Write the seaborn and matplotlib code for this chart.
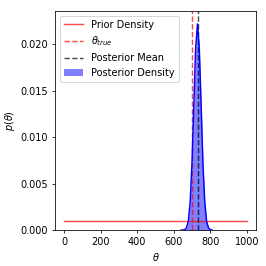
import numpy as np
import pandas as pd
import seaborn as sns
import matplotlib
matplotlib.use("Agg")
import matplotlib.pyplot as plt

# values
prior_theta = [0, 1000]
prior_density = [0.001, 0.001]

theta_true = 700
posterior_mean = 732

post_theta = [640, 650, 660, 670, 680, 690, 700, 710, 720, 730,
              740, 750, 760, 770, 780, 790, 800, 810]
post_density = [0.0, 0.00001, 0.00005, 0.00025, 0.00097, 0.0030, 0.0072, 0.0135, 0.0196, 0.0222,
                0.0196, 0.0135, 0.0072, 0.0030, 0.00097, 0.00025, 0.00005, 0.0]

prior_df = pd.DataFrame({'theta': prior_theta, 'density': prior_density})
post_df = pd.DataFrame({'theta': post_theta, 'density': post_density})

fig, ax = plt.subplots(figsize=(3.8, 3.8), dpi=70)

sns.lineplot(data=prior_df, x='theta', y='density', color='red', alpha=0.7,
             label='Prior Density', ax=ax)
ax.axvline(theta_true, color='red', linestyle='--', alpha=0.7, label=r'$\theta_{true}$')
ax.axvline(posterior_mean, color='black', linestyle='--', alpha=0.7, label='Posterior Mean')
sns.lineplot(data=post_df, x='theta', y='density', color='blue', ax=ax)
ax.fill_between(post_df['theta'], post_df['density'], color='blue', alpha=0.5,
                linewidth=0, label='Posterior Density')

ax.set_ylim(0, 0.0236)
ax.set_xlim(-50, 1050)
ax.set_xticks([0, 200, 400, 600, 800, 1000])
ax.set_yticks([0.0, 0.005, 0.010, 0.015, 0.020])
ax.set_xlabel(r'$\theta$')
ax.set_ylabel(r'$p(\theta)$')

handles, labels = ax.get_legend_handles_labels()
order = ['Prior Density', r'$\theta_{true}$', 'Posterior Mean', 'Posterior Density']
hmap = dict(zip(labels, handles))
ax.legend([hmap[k] for k in order], order, loc='upper left')

fig.subplots_adjust(left=0.207, right=0.962, top=0.959, bottom=0.135)
plt.savefig('out.png', dpi=70)
